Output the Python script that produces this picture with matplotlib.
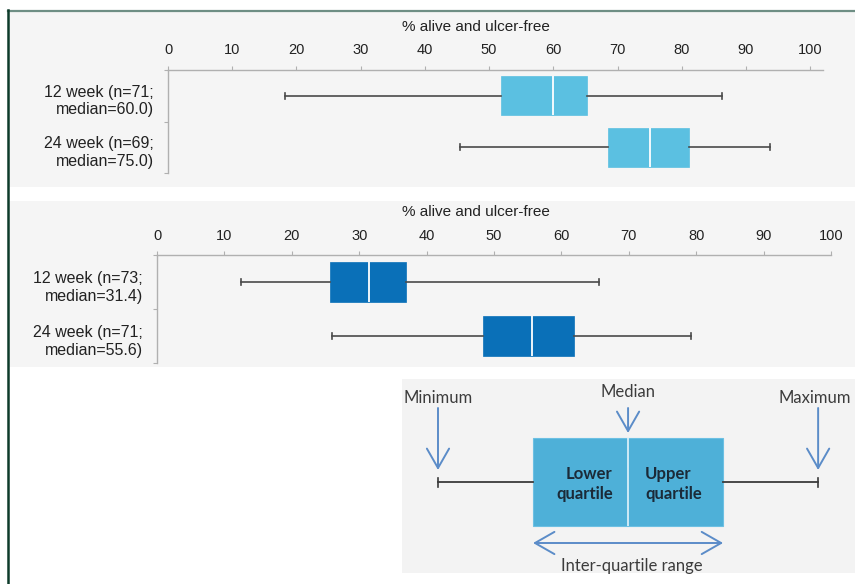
import matplotlib
matplotlib.use("Agg")
import matplotlib.pyplot as plt
from matplotlib.patches import Rectangle
from matplotlib.lines import Line2D

# ---- data ----
top_labels = ["12 week (n=71;\nmedian=60.0)", "24 week (n=69;\nmedian=75.0)"]
top_min = [18.2, 45.4]
top_q1 = [51.9, 68.5]
top_med = [60.0, 75.0]
top_q3 = [65.3, 81.1]
top_max = [86.3, 93.8]

bot_labels = ["12 week (n=73;\nmedian=31.4)", "24 week (n=71;\nmedian=55.6)"]
bot_min = [12.4, 26.0]
bot_q1 = [25.6, 48.4]
bot_med = [31.4, 55.6]
bot_q3 = [36.9, 61.9]
bot_max = [65.6, 79.2]

xticks = [0, 10, 20, 30, 40, 50, 60, 70, 80, 90, 100]
axis_title = "% alive and ulcer-free"

# schematic key (notional values, min..max = 0..100)
key_stats = [0, 25, 50, 75, 100]
key_names = ["Minimum", "Lower\nquartile", "Median", "Upper\nquartile", "Maximum"]
key_iqr = "Inter-quartile range"

W, H = 855, 584
fig = plt.figure(figsize=(W / 100, H / 100), dpi=100)
fig.patch.set_facecolor("white")

def px_rect(l, t, r, b):
    return [l / W, 1 - b / H, (r - l) / W, (b - t) / H]

# gray panels behind each part
for l, t, r, b, c in [(9, 11, 855, 187, "#f5f5f5"), (9, 201, 855, 367, "#f5f5f5"),
                      (402, 379, 855, 573, "#f3f3f3")]:
    fig.patches.append(Rectangle((l / W, 1 - b / H), (r - l) / W, (b - t) / H,
                                 transform=fig.transFigure, facecolor=c,
                                 edgecolor="none", zorder=-5))
# page frame lines
fig.lines.append(Line2D([8 / W, 1], [1 - 10.5 / H, 1 - 10.5 / H], transform=fig.transFigure,
                        color="#6e8e84", lw=1.6, zorder=-4))
fig.lines.append(Line2D([8 / W, 8 / W], [0, 1 - 10 / H], transform=fig.transFigure,
                        color="#0d3b2a", lw=1.8, zorder=-4))

font = "Liberation Sans"
txt = "#222222"


def make_stats(mins, q1s, meds, q3s, maxs):
    out = []
    for a, b, c, d, e in zip(mins, q1s, meds, q3s, maxs):
        out.append(dict(whislo=a, q1=b, med=c, q3=d, whishi=e, fliers=[]))
    return out


def draw_panel(rect, xmax, labels, stats, color, title_x, label_pad):
    ax = fig.add_axes(px_rect(*rect))
    ax.set_facecolor("none")
    ax.bxp(stats, positions=[1, 2], widths=0.75, orientation="horizontal",
           patch_artist=True, showfliers=False, capwidths=0.12,
           boxprops=dict(facecolor=color, edgecolor=color, lw=0.5),
           medianprops=dict(color="white", lw=1.3),
           whiskerprops=dict(color="#4a4a4a", lw=1.2),
           capprops=dict(color="#4a4a4a", lw=1.2))
    ax.set_xlim(0, xmax)
    ax.set_ylim(2.5, 0.5)
    for s in ["right", "bottom"]:
        ax.spines[s].set_visible(False)
    for s in ["top", "left"]:
        ax.spines[s].set_color("#b0b0b0")
        ax.spines[s].set_linewidth(1.0)
    ax.xaxis.tick_top()
    ax.set_xticks(xticks)
    ax.tick_params(axis="x", direction="out", length=3, color="#b0b0b0", pad=6,
                   labelsize=10.5, labelcolor=txt)
    for t in ax.get_xticklabels():
        t.set_fontfamily(font)
    ax.set_yticks([0.5, 1.5, 2.5])
    ax.set_yticklabels([])
    ax.tick_params(axis="y", which="major", direction="out", length=3, color="#b0b0b0")
    ax.set_yticks([1.05, 2.05], minor=True)
    ax.set_yticklabels(labels, minor=True, fontfamily=font, fontsize=11.5, color=txt,
                       linespacing=1.2)
    ax.tick_params(axis="y", which="minor", length=0, pad=label_pad)
    ax.xaxis.set_label_position("top")
    ax.set_xlabel(axis_title, fontfamily=font, fontsize=11, color=txt)
    ax.xaxis.set_label_coords(title_x, 1.0 + 43 / (rect[3] - rect[1]))
    ax.xaxis.label.set_va("center")
    return ax


draw_panel((168, 70, 823, 173), 102, top_labels,
           make_stats(top_min, top_q1, top_med, top_q3, top_max), "#5bc0e1",
           (476 - 168) / (823 - 168), 10)
draw_panel((157, 255, 831, 363), 100, bot_labels,
           make_stats(bot_min, bot_q1, bot_med, bot_q3, bot_max), "#0a70b8",
           (476 - 157) / (831 - 157), 10)

# ---- schematic key ----
kx = fig.add_axes(px_rect(402, 379, 855, 573))
kx.set_facecolor("none")
kx.axis("off")
kx.set_xlim(-9.47, 109.7)
kx.set_ylim(91, -103)
kmin, kq1, kmed, kq3, kmax = key_stats
kx.bxp([dict(whislo=kmin, q1=kq1, med=kmed, q3=kq3, whishi=kmax, fliers=[])],
       positions=[0], widths=88, orientation="horizontal", patch_artist=True,
       showfliers=False, capwidths=9,
       boxprops=dict(facecolor="#4eb0d8", edgecolor="#6cc0e3", lw=0.8),
       medianprops=dict(color="#e4f4fb", lw=1.2),
       whiskerprops=dict(color="#3a3a3a", lw=1.3),
       capprops=dict(color="#3a3a3a", lw=1.2))

kfont = "Lato"
acol = "#5b8cc8"
arrow = dict(arrowstyle="->,head_length=0.7,head_width=0.4", color=acol, lw=1.4,
             mutation_scale=20, shrinkA=0, shrinkB=0)
for xv, ytip in [(kmin, -12), (kmed, -49), (kmax, -12)]:
    kx.annotate("", xy=(xv, ytip), xytext=(xv, -74), arrowprops=arrow)
kx.text(kmin, -84, key_names[0], ha="center", va="center", fontfamily=kfont,
        fontsize=12, color="#3c3c3c")
kx.text(kmed, -90, key_names[2], ha="center", va="center", fontfamily=kfont,
        fontsize=12, color="#3c3c3c")
kx.text(kmax - 1, -84, key_names[4], ha="center", va="center", fontfamily=kfont,
        fontsize=12, color="#3c3c3c")
kx.text(kmed - 4, 2, key_names[1], ha="right", va="center", fontfamily=kfont,
        fontsize=12, fontweight="bold", color="#1b2a38", linespacing=1.25)
kx.text(kmed + 4.5, 2, key_names[3], ha="left", va="center", fontfamily=kfont,
        fontsize=12, fontweight="bold", color="#1b2a38", linespacing=1.25)
darrow = dict(arrow)
darrow["arrowstyle"] = "<->,head_length=0.7,head_width=0.4"
kx.annotate("", xy=(kq3, 61), xytext=(kq1, 61), arrowprops=darrow)
kx.text(kmed + 1, 84, key_iqr, ha="center", va="center", fontfamily=kfont,
        fontsize=12, color="#3c3c3c")

fig.savefig("out.png", dpi=100, facecolor=fig.get_facecolor())
